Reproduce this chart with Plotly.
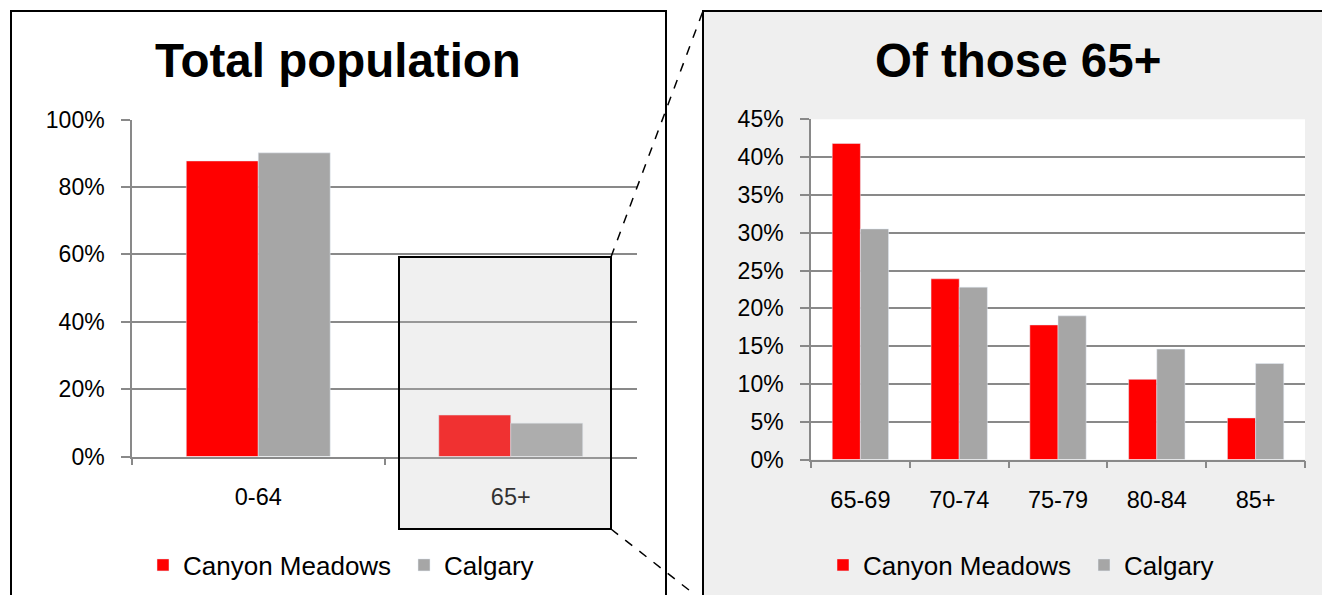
import plotly.graph_objects as go

W, H = 1322, 595

# ---- data ----
total_categories = ["0-64", "65+"]
total_canyon = [0.877, 0.123]
total_calgary = [0.901, 0.099]

senior_categories = ["65-69", "70-74", "75-79", "80-84", "85+"]
senior_canyon = [0.418, 0.239, 0.178, 0.106, 0.055]
senior_calgary = [0.305, 0.228, 0.190, 0.146, 0.127]

series_names = ["Canyon Meadows", "Calgary"]
RED = "#ff0000"
GRAY = "#a6a6a6"
FONT = "Liberation Sans, Arial, sans-serif"


def X(px):
    return px / W


def Y(py):
    return 1 - py / H


fig = go.Figure()

fig.add_trace(go.Bar(x=total_categories, y=total_canyon, name=series_names[0],
                     marker_color=RED, xaxis="x", yaxis="y", legend="legend", legendwidth=216))
fig.add_trace(go.Bar(x=total_categories, y=total_calgary, name=series_names[1],
                     marker_color=GRAY, xaxis="x", yaxis="y", legend="legend"))
fig.add_trace(go.Bar(x=senior_categories, y=senior_canyon, name=series_names[0],
                     marker_color=RED, xaxis="x2", yaxis="y2", legend="legend2", legendwidth=216))
fig.add_trace(go.Bar(x=senior_categories, y=senior_calgary, name=series_names[1],
                     marker_color=GRAY, xaxis="x2", yaxis="y2", legend="legend2"))

axis_gray = "#898989"
xcommon = dict(type="category", tickson="boundaries", ticks="outside", ticklen=7,
               tickwidth=1.5, tickcolor=axis_gray, showline=True, linecolor=axis_gray,
               linewidth=1.5, showgrid=False, tickfont=dict(family=FONT, size=23.5, color="black"),
               ticklabelstandoff=19, fixedrange=True, automargin=False)
ycommon = dict(ticks="outside", ticklen=9, tickwidth=1.5, tickcolor=axis_gray,
               showline=True, linecolor=axis_gray, linewidth=1.5, showgrid=True,
               gridcolor=axis_gray, gridwidth=1.5, tickformat=".0%", zeroline=False,
               tickfont=dict(family=FONT, size=23, color="black"),
               ticklabelstandoff=12, fixedrange=True, automargin=False)

fig.update_layout(
    width=W, height=H,
    margin=dict(l=0, r=0, t=0, b=0, autoexpand=False),
    paper_bgcolor="white", plot_bgcolor="white",
    barmode="group", bargap=0.43, bargroupgap=0,
    xaxis=dict(domain=[X(132), X(637)], anchor="y", **xcommon),
    yaxis=dict(domain=[Y(456.5), Y(119.5)], anchor="x", range=[0, 1], dtick=0.2, **ycommon),
    xaxis2=dict(domain=[X(811), X(1305)], anchor="y2", **xcommon),
    yaxis2=dict(domain=[Y(459.5), Y(119.3)], anchor="x2", range=[0, 0.45], dtick=0.05, **ycommon),
    legend=dict(orientation="h", x=X(143), xanchor="left", y=Y(565), yanchor="middle",
                font=dict(family=FONT, size=26, color="black"), bgcolor="rgba(0,0,0,0)",
                traceorder="normal"),
    legend2=dict(orientation="h", x=X(823), xanchor="left", y=Y(565), yanchor="middle",
                 font=dict(family=FONT, size=26, color="black"), bgcolor="rgba(0,0,0,0)",
                 traceorder="normal"),
    showlegend=True,
)

shapes = [
    # right panel background
    dict(type="rect", xref="paper", yref="paper", x0=X(703), x1=X(1340), y0=Y(620), y1=Y(11),
         fillcolor="#efefef", line=dict(color="black", width=2), layer="below"),
    # right plot area white
    dict(type="rect", xref="x2 domain", yref="y2 domain", x0=0, x1=1, y0=0, y1=1,
         fillcolor="white", line=dict(width=0), layer="below"),
    # left panel border
    dict(type="rect", xref="paper", yref="paper", x0=X(11), x1=X(666), y0=Y(620), y1=Y(11),
         fillcolor="rgba(0,0,0,0)", line=dict(color="black", width=2), layer="above"),
    # highlight box over 65+
    dict(type="rect", xref="paper", yref="paper", x0=X(399), x1=X(611), y0=Y(529), y1=Y(257),
         fillcolor="rgba(194,194,194,0.25)", line=dict(color="black", width=2), layer="above"),
    # dashed connector lines
    dict(type="line", xref="paper", yref="paper", x0=X(611), y0=Y(257), x1=X(703), y1=Y(11),
         line=dict(color="black", width=1.5, dash="dash"), layer="above"),
    dict(type="line", xref="paper", yref="paper", x0=X(611), y0=Y(529), x1=X(703), y1=Y(601),
         line=dict(color="black", width=1.5, dash="dash"), layer="above"),
]
fig.update_layout(shapes=shapes)

fig.add_annotation(text="<b>Total population</b>", xref="paper", yref="paper",
                   x=X(338), y=Y(61), xanchor="center", yanchor="middle", showarrow=False,
                   font=dict(family=FONT, size=47.5, color="black"))
fig.add_annotation(text="<b>Of those 65+</b>", xref="paper", yref="paper",
                   x=X(1018), y=Y(61), xanchor="center", yanchor="middle", showarrow=False,
                   font=dict(family=FONT, size=47.5, color="black"))

fig.write_html(
    "out.html",
    config={"displayModeBar": False},
    post_script="document.body.style.margin='0';document.body.style.overflow='hidden';",
)
